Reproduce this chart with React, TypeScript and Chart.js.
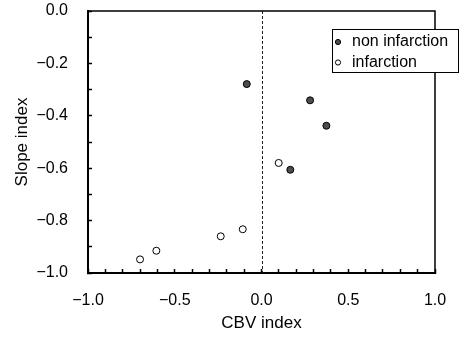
import React, { useEffect, useRef } from 'react';
import { Chart, registerables } from 'chart.js';

Chart.register(...registerables);

const seriesLabels = ['non infarction', 'infarction'];
const nonInfarctionX = [-0.085, 0.28, 0.374, 0.166];
const nonInfarctionY = [-0.279, -0.341, -0.438, -0.606];
const infarctionX = [0.099, -0.7, -0.606, -0.235, -0.108];
const infarctionY = [-0.58, -0.948, -0.915, -0.86, -0.833];
const xTitle = 'CBV index';
const yTitle = 'Slope index';
const xMin = -1;
const xMax = 1;
const yMin = -1;
const yMax = 0;
const refLineX = 0;

const FONT = "'Liberation Sans', Arial, sans-serif";
const fmt = (v: number) => (v < 0 ? '\u2212' : '') + Math.abs(v).toFixed(1);

const framePlugin = {
  id: 'frame',
  beforeDatasetsDraw(chart: any) {
    const { ctx, chartArea, scales } = chart;
    const x = Math.round(scales.x.getPixelForValue(refLineX)) + 0.5;
    ctx.save();
    ctx.strokeStyle = '#222';
    ctx.lineWidth = 1;
    ctx.setLineDash([3, 2]);
    ctx.beginPath();
    ctx.moveTo(x, chartArea.top);
    ctx.lineTo(x, chartArea.bottom);
    ctx.stroke();
    ctx.restore();
  },
  afterDraw(chart: any) {
    const { ctx, chartArea } = chart;
    ctx.save();
    ctx.strokeStyle = '#000';
    ctx.lineWidth = 1.5;
    ctx.beginPath();
    ctx.moveTo(chartArea.left, chartArea.top);
    ctx.lineTo(chartArea.right, chartArea.top);
    ctx.lineTo(chartArea.right, chartArea.bottom);
    ctx.stroke();

    // legend box
    const bx = chartArea.right - 103;
    const by = chartArea.top + 18;
    const bw = 126;
    const bh = 43;
    ctx.fillStyle = '#fff';
    ctx.fillRect(bx, by, bw, bh);
    ctx.lineWidth = 1;
    ctx.strokeRect(bx + 0.5, by + 0.5, bw, bh);
    ctx.font = `16px ${FONT}`;
    ctx.textBaseline = 'middle';
    ctx.textAlign = 'left';
    chart.data.datasets.forEach((ds: any, i: number) => {
      const cy = by + 13 + i * 20.5;
      ctx.beginPath();
      ctx.arc(bx + 6, cy, 2.6, 0, Math.PI * 2);
      ctx.fillStyle = ds.backgroundColor;
      ctx.fill();
      ctx.strokeStyle = '#000';
      ctx.lineWidth = 1;
      ctx.stroke();
      ctx.fillStyle = '#000';
      ctx.fillText(ds.label, bx + 20, cy);
    });
    ctx.restore();
  },
};

export default function App() {
  const ref = useRef<HTMLCanvasElement>(null);
  useEffect(() => {
    if (!ref.current) return;
    const chart = new Chart(ref.current, {
      type: 'scatter',
      data: {
        datasets: [
          {
            label: seriesLabels[0],
            data: nonInfarctionX.map((x, i) => ({ x, y: nonInfarctionY[i] })),
            backgroundColor: '#4d4d4d',
            borderColor: '#000',
            borderWidth: 1,
            pointRadius: 3.5,
          },
          {
            label: seriesLabels[1],
            data: infarctionX.map((x, i) => ({ x, y: infarctionY[i] })),
            backgroundColor: '#fff',
            borderColor: '#000',
            borderWidth: 1,
            pointRadius: 3.5,
          },
        ],
      },
      options: {
        responsive: false,
        animation: false,
        devicePixelRatio: 1,
        layout: { padding: { left: 0, top: 11, right: 28, bottom: 0 } },
        plugins: { legend: { display: false }, tooltip: { enabled: false } },
        scales: {
          x: {
            type: 'linear',
            min: xMin,
            max: xMax,
            afterFit: (s: any) => { s.height = 66; s.paddingLeft = 0; s.paddingRight = 0; },
            border: { display: true, color: '#000', width: 2 },
            grid: { drawOnChartArea: false, drawTicks: true, tickLength: -4, tickColor: '#000', tickWidth: 1.5 },
            ticks: {
              stepSize: 0.1,
              autoSkip: false,
              maxRotation: 0,
              padding: 22,
              color: '#000',
              font: { family: FONT, size: 16 },
              callback: (v: any) => {
                const r = Math.round(Number(v) * 10);
                return r % 5 === 0 ? fmt(r / 10) : '';
              },
            },
            title: { display: true, text: xTitle, color: '#000', font: { family: FONT, size: 17 }, padding: { top: 0, bottom: 5 } },
          },
          y: {
            type: 'linear',
            min: yMin,
            max: yMax,
            afterFit: (s: any) => { s.width = 88; s.paddingTop = 0; s.paddingBottom = 0; },
            border: { display: true, color: '#000', width: 2 },
            grid: { drawOnChartArea: false, drawTicks: true, tickLength: -4, tickColor: '#000', tickWidth: 1.5 },
            ticks: {
              stepSize: 0.1,
              autoSkip: false,
              padding: 24,
              color: '#000',
              font: { family: FONT, size: 16 },
              callback: (v: any) => {
                const r = Math.round(Number(v) * 10);
                return r % 2 === 0 ? fmt(r / 10) : '';
              },
            },
            title: { display: true, text: yTitle, color: '#000', font: { family: FONT, size: 17 }, padding: { top: 12, bottom: 0 } },
          },
        },
      },
      plugins: [framePlugin],
    } as any);
    return () => chart.destroy();
  }, []);
  return (
    <div style={{ position: 'absolute', left: 0, top: 0, width: 463, height: 339, background: '#fff' }}>
      <canvas ref={ref} width={463} height={339} />
    </div>
  );
}
